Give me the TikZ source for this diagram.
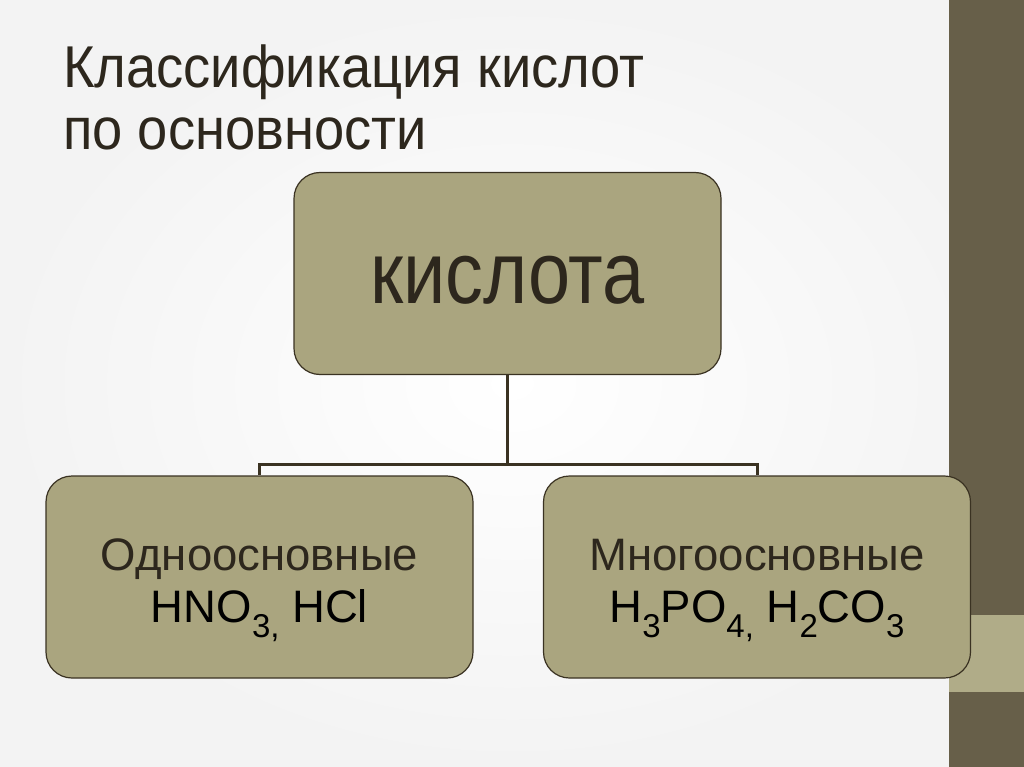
\documentclass[tikz,border=0pt]{standalone}
\usepackage{fontspec}
\setmainfont{Liberation Sans}
\newfontfamily\narrowfont[FakeStretch=0.92]{Liberation Sans}
\newfontfamily\acidfont[FakeStretch=0.86]{Liberation Sans}
\usetikzlibrary{positioning}
\definecolor{boxfill}{RGB}{170,165,127}
\definecolor{boxline}{RGB}{58,50,34}
\definecolor{inkbrown}{RGB}{45,39,29}
\definecolor{bardark}{RGB}{103,95,73}
\definecolor{barlight}{RGB}{176,172,136}
\definecolor{slidegray}{RGB}{243,243,243}
\newcommand{\chemsub}[1]{\raisebox{-15pt}{\fontsize{33}{33}\selectfont #1}}
\tikzset{
    classbox/.style={draw=boxline, line width=1.2pt, fill=boxfill, rounded corners=26pt,
        minimum width=427pt, minimum height=202pt, align=center, text=inkbrown},
    kindbox/.style={classbox, font=\fontsize{45.5}{52}\selectfont, text height=110pt, text depth=20pt},
    branch/.style={draw=boxline, line width=3pt}
}
\begin{document}
\begin{tikzpicture}[x=1pt, y=-1pt]
    \useasboundingbox (0,0) rectangle (1024,767);
    \shade[inner color=white, outer color=slidegray] (0,0) rectangle (1024,767);
    \fill[bardark] (949,0) rectangle (1024,767);
    \fill[barlight] (949,615) rectangle (1024,692);
    % title
    \node[anchor=base west, inner sep=0pt, text=inkbrown, align=left,
          font=\narrowfont\fontsize{59}{62}\selectfont] (title) at (63,150)
        {Классификация кислот\\по основности};
    % boxes
    \node[classbox, font=\acidfont\fontsize{88}{88}\selectfont, text height=59pt, text depth=0pt]
        (acid) at (507.5,273.5) {кислота};
    \node[kindbox] (mono) at (259.5,577)
        {Одноосновные\\\color{black}HNO\chemsub{3,} HCl};
    \node[kindbox] (poly) at (757,577)
        {Многоосновные\\\color{black}H\chemsub{3}PO\chemsub{4,} H\chemsub{2}CO\chemsub{3}};
    % connectors
    \coordinate (fork) at (507.5,464);
    \draw[branch] (acid.south) -- (fork) -| (mono.north);
    \draw[branch] (fork) -| (poly.north);
\end{tikzpicture}
\end{document}
